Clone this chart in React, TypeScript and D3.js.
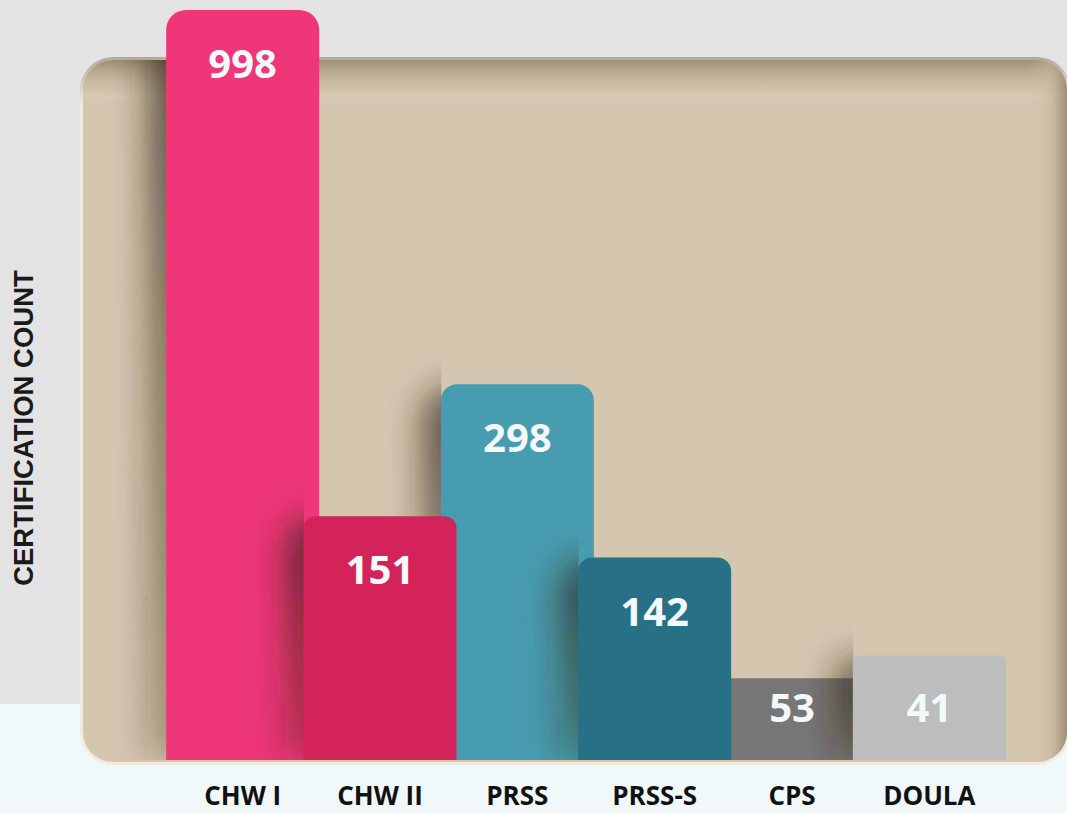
import React from 'react';
import * as d3 from 'd3';

// ---- data ----
const categories = ['CHW I', 'CHW II', 'PRSS', 'PRSS-S', 'CPS', 'DOULA'];
const counts = [998, 151, 298, 142, 53, 41];
// visual bar height as % of the tallest bar, as drawn in the infographic
const barLevels = [100, 32.5, 50.1, 27.0, 10.9, 13.9];
const yAxisTitle = 'CERTIFICATION COUNT';

// ---- styles ----
const colors = ['#ee3678', '#d4235b', '#489caf', '#277085', '#777777', '#bdbdbd'];
const cornerRadii = [20, 12, 16, 14, 0, 5];
const drawOrder = [0, 2, 1, 4, 3, 5];

const W = 1067;
const H = 813;
const baseY = 760;
const barW = 153;

function topRounded(x: number, y: number, w: number, h: number, r: number) {
  const rr = Math.min(r, w / 2, h);
  const p = d3.path();
  p.moveTo(x, y + h);
  p.lineTo(x, y + rr);
  if (rr > 0) p.arcTo(x, y, x + rr, y, rr);
  p.lineTo(x + w - rr, y);
  if (rr > 0) p.arcTo(x + w, y, x + w, y + rr, rr);
  p.lineTo(x + w, y + h);
  p.closePath();
  return p.toString();
}

export default function App() {
  const x = d3.scaleBand<string>().domain(categories).range([174, 998]).padding(0);
  const y = d3.scaleLinear().domain([0, 100]).range([baseY, 10]);

  const bars = categories.map((c, i) => {
    const cx = (x(c) as number) + x.bandwidth() / 2;
    const top = y(barLevels[i]);
    return { c, i, cx, x0: cx - barW / 2, top, h: baseY - top };
  });

  const panel = { x: 83, y: 60, w: 984, h: 702, r: 30 };

  return (
    <div>
      <style>{`body{margin:0;overflow:hidden;}`}</style>
      <svg width={W} height={H} style={{ display: 'block' }}>
        <defs>
          <clipPath id="panelClip">
            <rect x={panel.x} y={panel.y} width={panel.w} height={panel.h} rx={panel.r} />
          </clipPath>
          <linearGradient id="rimGrad" x1="0" y1={panel.y - 3} x2="0" y2={panel.y + 45} gradientUnits="userSpaceOnUse">
            <stop offset="0" stopColor="#b3a999" />
            <stop offset="1" stopColor="#f1eadf" />
          </linearGradient>
          <linearGradient id="topShade" x1="0" y1={panel.y} x2="0" y2={panel.y + 42} gradientUnits="userSpaceOnUse">
            <stop offset="0" stopColor="#8f7f63" stopOpacity="0.8" />
            <stop offset="0.75" stopColor="#c9b9a0" stopOpacity="0.25" />
            <stop offset="0.85" stopColor="#ddd0bc" stopOpacity="0.35" />
            <stop offset="1" stopColor="#d5c6b0" stopOpacity="0" />
          </linearGradient>
          <linearGradient id="rightShade" x1={panel.x + panel.w - 38} y1="0" x2={panel.x + panel.w} y2="0" gradientUnits="userSpaceOnUse">
            <stop offset="0" stopColor="#d5c6b0" stopOpacity="0" />
            <stop offset="0.55" stopColor="#c4b49a" stopOpacity="0.5" />
            <stop offset="1" stopColor="#9a896c" stopOpacity="0.95" />
          </linearGradient>
          <filter id="shBlur" filterUnits="userSpaceOnUse" x="0" y="-100" width={W} height={H + 200}>
            <feGaussianBlur stdDeviation="17" />
          </filter>
          <linearGradient id="shGrad" x1="0" y1="0" x2="0" y2="1">
            <stop offset="0" stopColor="#2e200c" stopOpacity="0.75" />
            <stop offset="0.45" stopColor="#2e200c" stopOpacity="0.5" />
            <stop offset="1" stopColor="#2e200c" stopOpacity="0.3" />
          </linearGradient>
          {bars.map((b) => (
            <clipPath id={`shClip${b.i}`} key={b.i}>
              <rect x={panel.x} y={panel.y} width={b.x0 - panel.x + 0.5} height={baseY - panel.y} />
            </clipPath>
          ))}
        </defs>

        {/* background */}
        <rect x={0} y={0} width={W} height={704} fill="#e3e3e3" />
        <rect x={0} y={704} width={W} height={H - 704} fill="#f1f8fa" />

        {/* panel */}
        <rect x={panel.x - 3} y={panel.y - 3} width={panel.w + 6} height={panel.h + 6} rx={panel.r + 3} fill="url(#rimGrad)" />
        <g clipPath="url(#panelClip)">
          <rect x={panel.x} y={panel.y} width={panel.w} height={panel.h} fill="#d5c6b0" />
          <rect x={panel.x} y={panel.y} width={panel.w} height={60} fill="url(#topShade)" />
          <rect x={panel.x + panel.w - 40} y={panel.y} width={40} height={panel.h} fill="url(#rightShade)" />
        </g>

        {/* bars with left-cast shadows */}
        {drawOrder.map((i) => {
          const b = bars[i];
          return (
            <g key={b.c}>
              <g clipPath={`url(#shClip${i})`}>
                <path
                  d={topRounded(b.x0 - 18, b.top + 4, barW, b.h - 4, cornerRadii[i] + 14)}
                  fill="url(#shGrad)"
                  filter="url(#shBlur)"
                />
              </g>
              <path d={topRounded(b.x0, b.top, barW, b.h, cornerRadii[i])} fill={colors[i]} />
            </g>
          );
        })}

        {/* value labels */}
        {bars.map((b, i) => (
          <text
            key={`v${i}`}
            x={b.cx}
            y={Math.min(b.top + 68, baseY - 38)}
            textAnchor="middle"
            fontFamily="'Open Sans', sans-serif"
            fontWeight={700}
            fontSize={40}
            fill="#f4f9fb"
          >
            {counts[i]}
          </text>
        ))}

        {/* category labels */}
        {bars.map((b, i) => (
          <text
            key={`c${i}`}
            x={b.cx}
            y={805}
            textAnchor="middle"
            fontFamily="'Open Sans', sans-serif"
            fontWeight={700}
            fontSize={26}
            fill="#111"
          >
            {categories[i]}
          </text>
        ))}

        {/* y axis title */}
        <text
          transform="translate(33,428) rotate(-90)"
          textAnchor="middle"
          fontFamily="'Liberation Sans', Arial, sans-serif"
          fontWeight={700}
          fontSize={27.5}
          fill="#1a1a1a"
        >
          {yAxisTitle}
        </text>
      </svg>
    </div>
  );
}
